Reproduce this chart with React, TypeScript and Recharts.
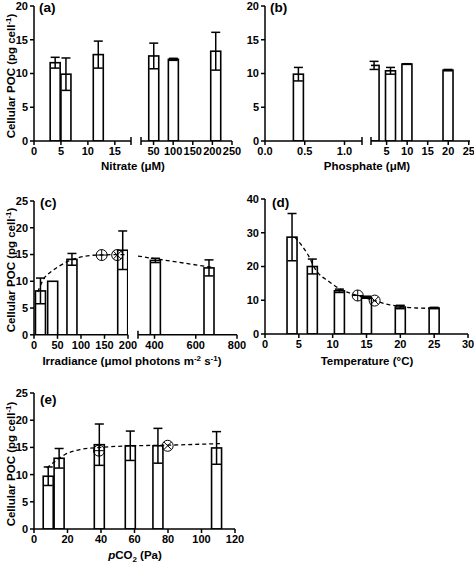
import React from 'react';
import { ComposedChart, Bar, Line, Scatter, XAxis, YAxis, ErrorBar, ReferenceLine } from 'recharts';

// (a) nitrate, µM
const nitrateLow = [4, 6, 12];
const nitrateLowPoc = [11.6, 9.9, 12.8];
const nitrateLowErr = [0.8, 2.4, 2.0];
const nitrateHigh = [50, 100, 208];
const nitrateHighPoc = [12.6, 12.1, 13.3];
const nitrateHighErr = [1.9, 0.15, 2.8];

// (b) phosphate, µM
const phosphateLow = [0.42];
const phosphateLowPoc = [9.9];
const phosphateLowErr = [1.0];
const phosphateHigh = [2, 6, 10, 20];
const phosphateHighPoc = [11.2, 10.4, 11.4, 10.5];
const phosphateHighErr = [0.6, 0.5, 0.05, 0.1];

// (c) irradiance, µmol photons m-2 s-1
const irrLow = [14, 40, 81, 189];
const irrLowPoc = [8.2, 10.0, 14.1, 15.8];
const irrLowErr = [2.4, 0, 1.1, 3.6];
const irrHigh = [405, 665];
const irrHighPoc = [13.9, 12.5];
const irrHighErr = [0.4, 1.5];
const irrFitLowX = [8, 21, 35, 53, 74, 98, 133, 200];
const irrFitLowY = [8.0, 10.5, 11.7, 12.8, 13.8, 14.5, 14.9, 15.0];
const irrFitHighX = [320, 680];
const irrFitHighY = [14.7, 12.6];
const irrMarkX = [144, 177];
const irrMarkY = [14.9, 14.9];

// (d) temperature, °C
const temp = [4, 7, 11, 15, 20, 25];
const tempPoc = [28.7, 20.0, 12.8, 10.9, 8.0, 7.7];
const tempErr = [7.0, 2.2, 0.5, 0.3, 0.5, 0.2];
const tempFitX = [4.4, 6.2, 7.6, 9.4, 11.1, 13.7, 16.2, 18.3, 19.9, 22.4, 25.2];
const tempFitY = [28.7, 24.0, 18.7, 15.6, 13.3, 11.4, 9.9, 8.7, 8.2, 7.7, 7.6];
const tempMarkX = [13.7, 16.2];
const tempMarkY = [11.4, 9.9];

// (e) pCO2, Pa
const pco2 = [8.5, 15, 39, 57.5, 74, 109];
const pco2Poc = [9.7, 13.0, 15.5, 15.3, 15.3, 14.9];
const pco2Err = [1.7, 1.8, 3.8, 2.7, 3.2, 3.0];
const pco2FitX = [7.6, 12, 18.5, 27.5, 39.4, 59.3, 78, 111];
const pco2FitY = [11.2, 12.3, 13.7, 14.6, 15.0, 15.3, 15.4, 15.7];
const pco2MarkX = [38.8, 79.8];
const pco2MarkY = [14.4, 15.3];

const markKinds = ['plus', 'cross'];

type Pt = { x: number; y: number; err?: number; kind?: string };

const zip = (xs: number[], ys: number[], es?: number[]): Pt[] =>
  xs.map((x, i) => ({ x, y: ys[i], err: es ? es[i] : undefined, kind: markKinds[i] }));

const FONT = 'Liberation Sans, Arial, Helvetica, sans-serif';
const INK = '#000';
const BAR_W = 10;

const tickStyle = { fill: INK, fontSize: 11, fontWeight: 'bold', fontFamily: FONT };

const BarShape = (p: any) => {
  if (p.height == null) return null;
  const cx = p.x + p.width / 2;
  return (
    <rect x={cx - BAR_W / 2} y={p.y} width={BAR_W} height={p.height} fill="#fff" stroke={INK} strokeWidth={1.6} />
  );
};

const MarkShape = (p: any) => {
  const { cx, cy } = p;
  const r = 5.5;
  const k = p.payload?.kind;
  const d = k === 'cross' ? r * 0.7 : r;
  return (
    <g>
      <circle cx={cx} cy={cy} r={r} fill="none" stroke={INK} strokeWidth={1} />
      {k === 'cross' ? (
        <path d={`M${cx - d},${cy - d}L${cx + d},${cy + d}M${cx - d},${cy + d}L${cx + d},${cy - d}`} stroke={INK} strokeWidth={1} />
      ) : (
        <path d={`M${cx - d},${cy}L${cx + d},${cy}M${cx},${cy - d}L${cx},${cy + d}`} stroke={INK} strokeWidth={1} />
      )}
    </g>
  );
};

interface SegProps {
  plot: [number, number, number, number]; // left, top, right, bottom on the page
  xDomain: [number, number];
  xTicks: number[];
  yDomain: [number, number];
  yTicks: number[];
  showY?: boolean;
  bars: Pt[];
  fit?: Pt[];
  marks?: Pt[];
  breakAt?: number[];
  fmtX?: (v: number) => string;
}

const ML = 34;
const MR = 16;
const MT = 10;
const MB = 26;
const YW = 30;
const XH = 24;

const Segment: React.FC<SegProps> = ({ plot, xDomain, xTicks, yDomain, yTicks, showY, bars, fit, marks, breakAt, fmtX }) => {
  const [l, t, r, b] = plot;
  const w = r - l + ML + MR;
  const h = b - t + MT + MB;
  const yh = ((yDomain[1] - yDomain[0]) * 4) / (b - t);
  return (
    <div style={{ position: 'absolute', left: l - ML, top: t - MT }}>
      <ComposedChart
        width={w}
        height={h}
        data={bars}
        margin={{ top: MT, right: MR, bottom: MB - XH, left: showY ? ML - YW : ML }}
      >
        <XAxis
          type="number"
          dataKey="x"
          domain={xDomain}
          ticks={xTicks}
          interval={0}
          allowDataOverflow
          height={XH}
          tick={tickStyle}
          tickSize={4}
          tickMargin={2}
          tickLine={{ stroke: INK, strokeWidth: 1.5 }}
          axisLine={{ stroke: INK, strokeWidth: 1.5 }}
          tickFormatter={fmtX}
        />
        <YAxis
          type="number"
          dataKey="y"
          domain={yDomain}
          ticks={yTicks}
          interval={0}
          allowDataOverflow
          width={YW}
          hide={!showY}
          tick={tickStyle}
          tickSize={4}
          tickMargin={2}
          tickLine={{ stroke: INK, strokeWidth: 1.5 }}
          axisLine={{ stroke: INK, strokeWidth: 1.5 }}
        />
        <Bar dataKey="y" barSize={BAR_W} shape={BarShape} isAnimationActive={false}>
          <ErrorBar dataKey="err" direction="y" width={4.5} stroke={INK} strokeWidth={1.5} />
        </Bar>
        {fit && (
          <Line
            data={fit}
            dataKey="y"
            type="monotone"
            stroke={INK}
            strokeWidth={1.3}
            strokeDasharray="4 3"
            dot={false}
            isAnimationActive={false}
          />
        )}
        {marks && <Scatter data={marks} dataKey="y" shape={MarkShape} isAnimationActive={false} />}
        {(breakAt || []).map((bx) => (
          <ReferenceLine
            key={bx}
            segment={[{ x: bx, y: -yh }, { x: bx, y: yh }]}
            stroke={INK}
            strokeWidth={1.5}
            ifOverflow="visible"
          />
        ))}
      </ComposedChart>
    </div>
  );
};

const txt = { fontFamily: FONT, fontWeight: 'bold', fill: INK } as const;

const YTitle = ({ x, y }: { x: number; y: number }) => (
  <text x={x} y={y} transform={`rotate(-90 ${x} ${y})`} textAnchor="middle" fontSize={11.5} style={txt}>
    Cellular POC (pg cell
    <tspan dy={-4} fontSize={8}>-1</tspan>
    <tspan dy={4}>)</tspan>
  </text>
);

export default function App() {
  return (
    <div style={{ position: 'absolute', left: 0, top: 0, width: 474, height: 563, background: '#fff', overflow: 'hidden' }}>
      {/* (a) nitrate */}
      <Segment
        plot={[34, 6, 131, 141]}
        xDomain={[0, 18]}
        xTicks={[0, 5, 10, 15]}
        yDomain={[0, 20]}
        yTicks={[0, 5, 10, 15, 20]}
        showY
        bars={zip(nitrateLow, nitrateLowPoc, nitrateLowErr)}
        breakAt={[18]}
      />
      <Segment
        plot={[141, 6, 232, 141]}
        xDomain={[18, 250]}
        xTicks={[50, 100, 150, 200, 250]}
        yDomain={[0, 20]}
        yTicks={[0, 5, 10, 15, 20]}
        bars={zip(nitrateHigh, nitrateHighPoc, nitrateHighErr)}
        breakAt={[18]}
      />
      {/* (b) phosphate */}
      <Segment
        plot={[265, 6, 362, 141]}
        xDomain={[0, 1.22]}
        xTicks={[0, 0.5, 1.0]}
        yDomain={[0, 20]}
        yTicks={[0, 5, 10, 15, 20]}
        showY
        bars={zip(phosphateLow, phosphateLowPoc, phosphateLowErr)}
        breakAt={[1.22]}
        fmtX={(v) => v.toFixed(1)}
      />
      <Segment
        plot={[371, 6, 470, 141]}
        xDomain={[1.2, 25.3]}
        xTicks={[5, 10, 15, 20, 25]}
        yDomain={[0, 20]}
        yTicks={[0, 5, 10, 15, 20]}
        bars={zip(phosphateHigh, phosphateHighPoc, phosphateHighErr)}
        breakAt={[1.2]}
      />
      {/* (c) irradiance */}
      <Segment
        plot={[34, 200.5, 128, 334.3]}
        xDomain={[0, 200]}
        xTicks={[0, 50, 100, 150, 200]}
        yDomain={[0, 25]}
        yTicks={[0, 5, 10, 15, 20, 25]}
        showY
        bars={zip(irrLow, irrLowPoc, irrLowErr)}
        fit={zip(irrFitLowX, irrFitLowY)}
        marks={zip(irrMarkX, irrMarkY)}
      />
      <Segment
        plot={[138, 200.5, 237, 334.3]}
        xDomain={[320, 800]}
        xTicks={[400, 600, 800]}
        yDomain={[0, 25]}
        yTicks={[0, 5, 10, 15, 20, 25]}
        bars={zip(irrHigh, irrHighPoc, irrHighErr)}
        fit={zip(irrFitHighX, irrFitHighY)}
        breakAt={[320]}
      />
      {/* (d) temperature */}
      <Segment
        plot={[265, 199.3, 468, 334.3]}
        xDomain={[0, 30]}
        xTicks={[0, 5, 10, 15, 20, 25, 30]}
        yDomain={[0, 40]}
        yTicks={[0, 10, 20, 30, 40]}
        showY
        bars={zip(temp, tempPoc, tempErr)}
        fit={zip(tempFitX, tempFitY)}
        marks={zip(tempMarkX, tempMarkY)}
      />
      {/* (e) pCO2 */}
      <Segment
        plot={[34, 393.3, 235, 529.3]}
        xDomain={[0, 120]}
        xTicks={[0, 20, 40, 60, 80, 100, 120]}
        yDomain={[0, 25]}
        yTicks={[0, 5, 10, 15, 20, 25]}
        showY
        bars={zip(pco2, pco2Poc, pco2Err)}
        fit={zip(pco2FitX, pco2FitY)}
        marks={zip(pco2MarkX, pco2MarkY)}
      />

      <svg width={474} height={563} style={{ position: 'absolute', left: 0, top: 0, pointerEvents: 'none' }}>
        <text x={39} y={12} fontSize={13.5} style={txt}>(a)</text>
        <text x={270} y={12} fontSize={13.5} style={txt}>(b)</text>
        <text x={40} y={207} fontSize={13.5} style={txt}>(c)</text>
        <text x={272} y={207} fontSize={13.5} style={txt}>(d)</text>
        <text x={40} y={404} fontSize={13.5} style={txt}>(e)</text>

        <YTitle x={15} y={76} />
        <YTitle x={15} y={270} />
        <YTitle x={15} y={464} />

        <text x={133} y={170} textAnchor="middle" fontSize={11.5} style={txt}>Nitrate (μM)</text>
        <text x={367} y={170} textAnchor="middle" fontSize={11.5} style={txt}>Phosphate (μM)</text>
        <text x={132} y={365} textAnchor="middle" fontSize={11.5} style={txt}>
          Irradiance (μmol photons m<tspan dy={-4} fontSize={8}>-2</tspan>
          <tspan dy={4}> s</tspan>
          <tspan dy={-4} fontSize={8}>-1</tspan>
          <tspan dy={4}>)</tspan>
        </text>
        <text x={367} y={365} textAnchor="middle" fontSize={11.5} style={txt}>Temperature (°C)</text>
        <text x={135} y={559} textAnchor="middle" fontSize={11.5} style={txt}>
          <tspan fontStyle="italic">p</tspan>CO<tspan dy={3} fontSize={8}>2</tspan>
          <tspan dy={-3}> (Pa)</tspan>
        </text>
      </svg>
    </div>
  );
}
